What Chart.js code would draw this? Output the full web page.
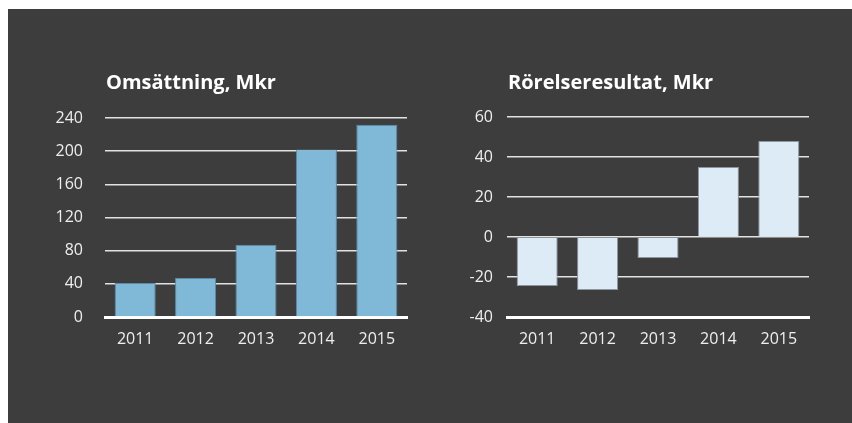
<!DOCTYPE html>
<html>
<head>
<meta charset="utf-8">
<script src="https://cdn.jsdelivr.net/npm/chart.js@4"></script>
<style>
  body { margin: 0; background: #ffffff; width: 852px; height: 423px; overflow: hidden; }
  #panel { position: absolute; left: 8px; top: 9px; right: 0; bottom: 0; background: #3d3d3d; }
  .box { position: absolute; top: 50px; height: 330px; }
  #left { left: 40px; width: 380px; }
  #right { left: 430px; width: 422px; }
</style>
</head>
<body>
<div id="panel"></div>
<div class="box" id="left"><canvas id="omsChart"></canvas></div>
<div class="box" id="right"><canvas id="resChart"></canvas></div>
<script>
var years = ['2011', '2012', '2013', '2014', '2015'];
var omsattning = [41, 47, 87, 202, 232];
var rorelseresultat = [-24.5, -26.5, -10.5, 35, 48];
var omsTicks = { min: 0, max: 240, step: 40 };
var resTicks = { min: -40, max: 60, step: 20 };

var font = "'Open Sans', 'DejaVu Sans', sans-serif";
var tickColor = "#eeeeee";
var gridColor = "#e2e2e2";

// title drawn at the left edge of the plot area
var titlePlugin = {
  id: 'leftTitle',
  afterDraw: function(chart, args, opts) {
    var ctx = chart.ctx;
    ctx.save();
    ctx.font = "bold 20px " + font;
    ctx.fillStyle = "#ffffff";
    ctx.textBaseline = "middle";
    ctx.textAlign = "left";
    ctx.fillText(opts.text, chart.chartArea.left + 1, opts.y);
    ctx.restore();
  }
};

function makeChart(id, title, data, ticks, color, border, yWidth, yPad, pad) {
  return new Chart(id, {
    type: "bar",
    data: {
      labels: years,
      datasets: [{
        data: data,
        backgroundColor: color,
        borderColor: border,
        borderWidth: 1,
        barPercentage: 0.68,
        categoryPercentage: 1
      }]
    },
    plugins: [titlePlugin],
    options: {
      responsive: true,
      maintainAspectRatio: false,
      animation: false,
      layout: { padding: pad },
      plugins: {
        legend: { display: false },
        tooltip: { enabled: false },
        leftTitle: { text: title, y: 33 }
      },
      scales: {
        x: {
          grid: { display: false, drawTicks: false },
          border: { display: true, color: "#ffffff", width: 3 },
          ticks: { color: tickColor, font: { family: font, size: 16 }, padding: 13 },
          afterFit: function(s) { s.height = 40; }
        },
        y: {
          min: ticks.min,
          max: ticks.max,
          grid: { color: gridColor, lineWidth: 1.5, drawTicks: false },
          border: { display: false },
          ticks: { stepSize: ticks.step, color: tickColor, font: { family: font, size: 16 }, padding: yPad },
          afterFit: function(s) { s.width = yWidth; }
        }
      }
    }
  });
}

makeChart("omsChart", "Omsättning, Mkr", omsattning, omsTicks, "#80b8d8", "#5d8ca8", 65, 22,
  { top: 68, right: 13, bottom: 23, left: 0 });
makeChart("resChart", "Rörelseresultat, Mkr", rorelseresultat, resTicks, "#ddebf7", "#8d969e", 77, 14,
  { top: 67, right: 43, bottom: 23, left: 0 });
</script>
</body>
</html>
